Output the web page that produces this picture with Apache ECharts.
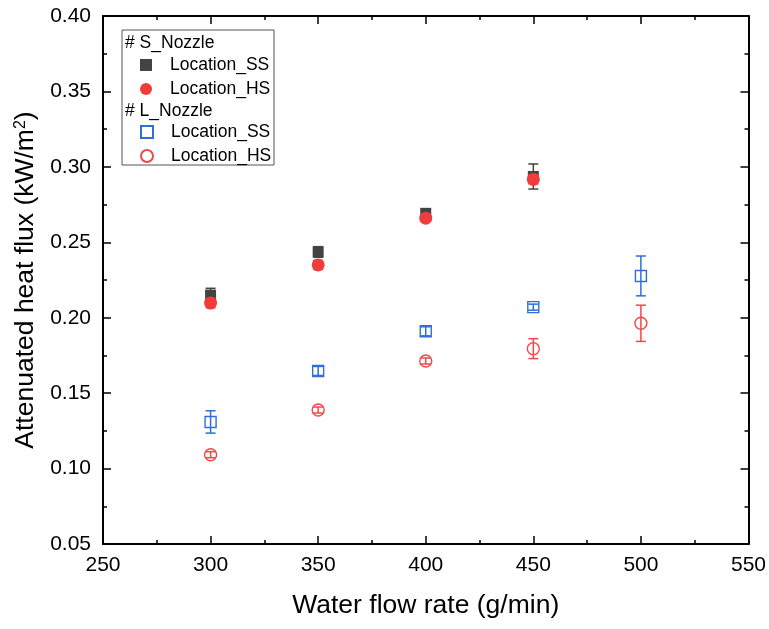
<!DOCTYPE html>
<html>
<head>
<meta charset="utf-8">
<script src="https://cdn.jsdelivr.net/npm/echarts@6/dist/echarts.min.js"></script>
<style>
    html, body { margin: 0; padding: 0; background: #fff; }
    #chart { width: 769px; height: 629px; }
</style>
</head>
<body>
<div id="chart"></div>
<script>
// data
const flowS = [300, 350, 400, 450];
const flowL = [300, 350, 400, 450, 500];

const sSS = [0.2150, 0.2436, 0.2692, 0.2936];
const sSSErr = [0.0045, 0.0035, 0.0025, 0.0083];
const sHS = [0.2097, 0.2350, 0.2660, 0.2917];
const sHSErr = [0.0030, 0.0030, 0.0020, 0.0030];

const lSS = [0.1309, 0.1647, 0.1910, 0.2070, 0.2277];
const lSSErr = [0.0074, 0.0030, 0.0030, 0.0020, 0.0132];
const lHS = [0.1092, 0.1388, 0.1713, 0.1795, 0.1963];
const lHSErr = [0.0020, 0.0020, 0.0020, 0.0066, 0.0120];

const font = "'Liberation Sans', Arial, sans-serif";
const GRAY = '#434343';
const RED = '#f23c3c';
const BLUE = '#2e6fd8';
const RED2 = '#f04848';

function pts(xs, ys) {
    return xs.map((x, i) => [x, ys[i]]);
}
function errPts(xs, ys, es) {
    return xs.map((x, i) => [x, ys[i], es[i]]);
}

// error bar renderer
function errorBars(color) {
    return function(params, api) {
        const x = api.value(0), y = api.value(1), e = api.value(2);
        const top = api.coord([x, y + e]);
        const bot = api.coord([x, y - e]);
        const hw = 5;
        const st = { stroke: color, lineWidth: 1.5 };
        return {
            type: 'group',
            children: [
                { type: 'line', shape: { x1: top[0], y1: top[1], x2: bot[0], y2: bot[1] }, style: st },
                { type: 'line', shape: { x1: top[0] - hw, y1: top[1], x2: top[0] + hw, y2: top[1] }, style: st },
                { type: 'line', shape: { x1: bot[0] - hw, y1: bot[1], x2: bot[0] + hw, y2: bot[1] }, style: st }
            ]
        };
    };
}

function errSeries(xs, ys, es, color) {
    return {
        type: 'custom',
        renderItem: errorBars(color),
        data: errPts(xs, ys, es),
        encode: { x: 0, y: 1 },
        silent: true,
        z: 3
    };
}

const axisCommon = {
    axisLine: { show: true, onZero: false, lineStyle: { color: '#000', width: 2 } },
    axisTick: { show: true, inside: true, length: 8, lineStyle: { color: '#000', width: 1.5 } },
    minorTick: { show: true, splitNumber: 2, length: 4, lineStyle: { color: '#000', width: 1.5 } },
    splitLine: { show: false }
};

const chart = echarts.init(document.getElementById('chart'));

const option = {
    backgroundColor: '#fff',
    animation: false,
    textStyle: { fontFamily: font },
    grid: { left: 103, right: 20, top: 16, bottom: 85 },
    xAxis: [
        Object.assign({
            type: 'value',
            position: 'bottom',
            min: 250,
            max: 550,
            interval: 50,
            name: 'Water flow rate (g/min)',
            nameLocation: 'middle',
            nameGap: 48,
            nameTextStyle: { fontSize: 26.5, color: '#000', fontFamily: font },
            axisLabel: { fontSize: 21, color: '#000', margin: 11, fontFamily: font }
        }, axisCommon),
        Object.assign({
            type: 'value',
            position: 'top',
            min: 250,
            max: 550,
            interval: 50,
            axisLabel: { show: false }
        }, axisCommon)
    ],
    yAxis: [
        Object.assign({
            type: 'value',
            position: 'left',
            min: 0.05,
            max: 0.40,
            interval: 0.05,
            name: 'Attenuated heat flux (kW/m{sup|2})',
            nameLocation: 'middle',
            nameGap: 61,
            nameTextStyle: {
                fontSize: 26.5, color: '#000', fontFamily: font,
                rich: {
                    sup: { fontSize: 16, verticalAlign: 'top', color: '#000', fontFamily: font, padding: [0, 0, 11, 0] }
                }
            },
            axisLabel: {
                fontSize: 21, color: '#000', margin: 12, fontFamily: font,
                formatter: v => v.toFixed(2)
            }
        }, axisCommon),
        Object.assign({
            type: 'value',
            position: 'right',
            min: 0.05,
            max: 0.40,
            interval: 0.05,
            axisLabel: { show: false }
        }, axisCommon)
    ],
    legend: [
        {
            left: 140,
            top: 55,
            orient: 'vertical',
            padding: 0,
            itemGap: 4,
            itemWidth: 12,
            itemHeight: 12,
            selectedMode: false,
            data: ['S_Location_SS', 'S_Location_HS'],
            formatter: name => name.slice(2),
            textStyle: { fontSize: 17.5, lineHeight: 20, color: '#000', fontFamily: font, padding: [0, 0, 0, 13] }
        },
        {
            left: 140,
            top: 122,
            orient: 'vertical',
            padding: 0,
            itemGap: 4,
            itemWidth: 12,
            itemHeight: 12,
            selectedMode: false,
            data: ['L_Location_SS', 'L_Location_HS'],
            formatter: name => name.slice(2),
            textStyle: { fontSize: 17.5, lineHeight: 20, color: '#000', fontFamily: font, padding: [0, 0, 0, 13] }
        }
    ],
    graphic: [
        {
            type: 'rect',
            shape: { x: 122, y: 30, width: 152, height: 135 },
            style: { fill: 'rgba(255,255,255,0.9)', stroke: '#555', lineWidth: 1 },
            z: 0
        },
        {
            type: 'text',
            left: 125,
            top: 34,
            style: { text: '# S_Nozzle', fontSize: 17.5, fill: '#000', fontFamily: font },
            z: 5
        },
        {
            type: 'text',
            left: 125,
            top: 102,
            style: { text: '# L_Nozzle', fontSize: 17.5, fill: '#000', fontFamily: font },
            z: 5
        }
    ],
    series: [
        errSeries(flowS, sSS, sSSErr, GRAY),
        {
            name: 'S_Location_SS',
            type: 'scatter',
            symbol: 'rect',
            symbolSize: 11,
            itemStyle: { color: GRAY, opacity: 1 },
            data: pts(flowS, sSS),
            z: 2
        },
        {
            name: 'S_Location_HS',
            type: 'scatter',
            symbol: 'circle',
            symbolSize: 13,
            itemStyle: { color: RED, opacity: 1 },
            data: pts(flowS, sHS),
            z: 4
        },
        errSeries(flowS, sHS, sHSErr, RED),
        errSeries(flowL, lSS, lSSErr, BLUE),
        {
            name: 'L_Location_SS',
            type: 'scatter',
            symbol: 'rect',
            symbolSize: 11,
            itemStyle: { color: 'rgba(0,0,0,0)', borderColor: BLUE, borderWidth: 1.4, opacity: 1 },
            data: pts(flowL, lSS),
            z: 4
        },
        errSeries(flowL, lHS, lHSErr, RED2),
        {
            name: 'L_Location_HS',
            type: 'scatter',
            symbol: 'circle',
            symbolSize: 12,
            itemStyle: { color: 'rgba(0,0,0,0)', borderColor: RED2, borderWidth: 1.4, opacity: 1 },
            data: pts(flowL, lHS),
            z: 4
        }
    ]
};

chart.setOption(option);
</script>
</body>
</html>
